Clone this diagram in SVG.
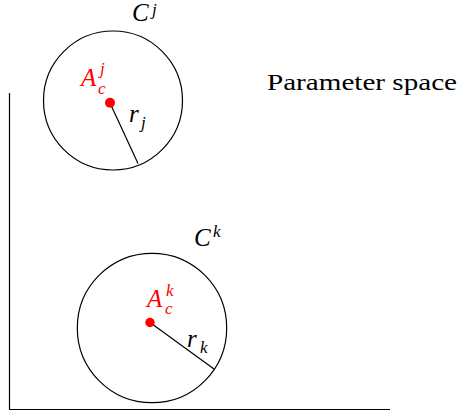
<svg xmlns="http://www.w3.org/2000/svg" width="459" height="417" viewBox="0 0 459 417">
<style>
.ln{fill:none;stroke:#000;stroke-width:1.2}
.m{font-family:"Liberation Serif","Times New Roman",serif;font-style:italic;font-size:25px;fill:#000}
.s{font-family:"Liberation Serif","Times New Roman",serif;font-style:italic;font-size:17px;fill:#000}
.red{fill:#ff0000}
.t{font-family:"Liberation Serif","Times New Roman",serif;font-size:24px;fill:#000}
</style>
<rect width="459" height="417" fill="#fff"/>
<g id="axes">
<path class="ln" d="M9.5,93 V409.5 H390"/>
</g>
<g id="label-space">
<text class="t" x="267" y="90" textLength="190" lengthAdjust="spacingAndGlyphs">Parameter space</text>
</g>
<g id="node-Cj">
<circle class="ln" cx="113" cy="100.5" r="69.5"/>
<text class="m" x="132" y="21" font-size="24">C</text><text class="s" x="152" y="15" font-size="15">j</text>
</g>
<g id="node-Ck">
<circle class="ln" cx="152" cy="328" r="74.7"/>
<text class="m" x="194" y="246">C</text><text class="s" x="213" y="237">k</text>
</g>
<g id="connectors">
<line class="ln" x1="110" y1="103" x2="138" y2="163.5"/>
<line class="ln" x1="150" y1="322.5" x2="214" y2="369"/>
</g>
<g id="node-Aj">
<circle class="red" cx="110" cy="102.7" r="5"/>
<text class="m red" x="81" y="86">A</text><text class="s red" x="100" y="74">j</text><text class="s red" x="98" y="94">c</text>
</g>
<g id="node-Ak">
<circle class="red" cx="150" cy="322.5" r="4.7"/>
<text class="m red" x="147" y="307">A</text><text class="s red" x="166" y="296">k</text><text class="s red" x="165" y="314">c</text>
</g>
<g id="label-rj">
<text class="m" x="129" y="122">r</text><text class="s" x="141" y="128">j</text>
</g>
<g id="label-rk">
<text class="m" x="187" y="347">r</text><text class="s" x="200" y="353">k</text>
</g>
</svg>
